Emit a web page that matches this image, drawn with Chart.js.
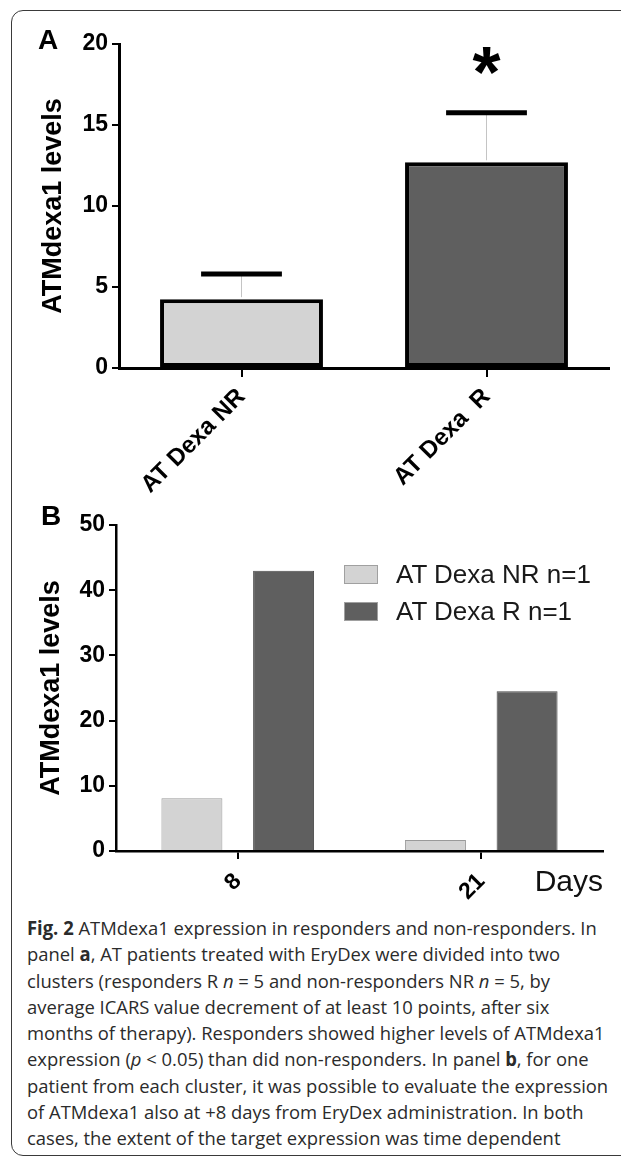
<!DOCTYPE html>
<html>
<head>
<meta charset="utf-8">
<script src="https://cdn.jsdelivr.net/npm/chart.js"></script>
<style>
  html, body { margin: 0; padding: 0; background: #fff; }
  body { width: 621px; height: 1159px; position: relative; overflow: hidden; font-family: 'Liberation Sans', Arial, sans-serif; }
  .frame { position: absolute; left: 11px; top: 10px; width: 700px; height: 1146px; border: 1.5px solid #3a3a3a; border-radius: 12px; box-sizing: border-box; }
  canvas { position: absolute; left: 0; }
  #chartA { top: 0; }
  #chartB { top: 500px; }
  .panel { position: absolute; font-weight: bold; font-size: 28px; line-height: 28px; color: #000; }
  #legendB { position: absolute; left: 344px; top: 556px; }
  .leg-row { display: flex; align-items: center; height: 37px; }
  .leg-box { width: 34px; height: 19px; box-sizing: border-box; border: 1px solid #a0a0a0; margin-right: 18px; }
  .leg-text { font-size: 26px; color: #1a1a1a; white-space: nowrap; }
  #caption { position: absolute; left: 27px; top: 915px; font-family: 'Open Sans', sans-serif; font-size: 19px; line-height: 26.25px; color: #2b2b2b; transform-origin: 0 0; }
  #caption div { white-space: nowrap; }
</style>
</head>
<body>
<div class="frame"></div>
<canvas id="chartA" width="621" height="505"></canvas>
<canvas id="chartB" width="621" height="410"></canvas>
<div class="panel" style="left:38px; top:26px;">A</div>
<div class="panel" style="left:41px; top:502px;">B</div>
<div id="legendB"></div>
<div id="caption">
  <div><b>Fig. 2</b> ATMdexa1 expression in responders and non-responders. In</div>
  <div>panel <b>a</b>, AT patients treated with EryDex were divided into two</div>
  <div>clusters (responders R <i>n</i> = 5 and non-responders NR <i>n</i> = 5, by</div>
  <div>average ICARS value decrement of at least 10 points, after six</div>
  <div>months of therapy). Responders showed higher levels of ATMdexa1</div>
  <div>expression (<i>p</i> &lt; 0.05) than did non-responders. In panel <b>b</b>, for one</div>
  <div id="widest">patient from each cluster, it was possible to evaluate the expression</div>
  <div>of ATMdexa1 also at +8 days from EryDex administration. In both</div>
  <div>cases, the extent of the target expression was time dependent</div>
</div>
<script>
// Panel A: mean levels with upper error bar
const groupsA = ['AT Dexa NR', 'AT Dexa  R'];
const meanA = [4.25, 12.7];
const semA = [1.55, 3.05];
const signifA = ['', '*'];
const colorsA = ['#d3d3d3', '#5f5f5f'];
const ticksA = [0, 5, 10, 15, 20];

// Panel B: one patient per cluster, by day
const daysB = ['8', '21'];
const nrB = [8.1, 1.7];
const rB = [43.0, 24.5];
const ticksB = [0, 10, 20, 30, 40, 50];
const labelsB = ['AT Dexa NR n=1', 'AT Dexa R n=1'];
const colorsB = ['#d3d3d3', '#5f5f5f'];

const FONT = "'Liberation Sans', Arial, sans-serif";

const errorBarsA = {
    id: 'errorBarsA',
    afterDatasetsDraw(chart) {
        const ctx = chart.ctx;
        const y = chart.scales.y;
        const meta = chart.getDatasetMeta(0);
        ctx.save();
        meta.data.forEach((bar, i) => {
            const top = y.getPixelForValue(meanA[i]);
            const cap = y.getPixelForValue(meanA[i] + semA[i]);
            const half = bar.width * 0.248;
            ctx.strokeStyle = '#c4c4c4';
            ctx.lineWidth = 1;
            ctx.beginPath();
            ctx.moveTo(bar.x, top - 2);
            ctx.lineTo(bar.x, cap);
            ctx.stroke();
            ctx.strokeStyle = '#000';
            ctx.lineWidth = 5;
            ctx.beginPath();
            ctx.moveTo(bar.x - half, cap);
            ctx.lineTo(bar.x + half, cap);
            ctx.stroke();
            if (signifA[i]) {
                ctx.font = 'bold 72px ' + FONT;
                ctx.fillStyle = '#000';
                ctx.textAlign = 'center';
                ctx.textBaseline = 'alphabetic';
                const m = ctx.measureText(signifA[i]);
                const mid = (m.actualBoundingBoxAscent - m.actualBoundingBoxDescent) / 2;
                ctx.fillText(signifA[i], bar.x, cap - 52 + mid);
            }
        });
        ctx.restore();
    }
};

function tickFont(size) {
    return { family: FONT, size: size, weight: 'bold' };
}

new Chart(document.getElementById('chartA'), {
    type: 'bar',
    data: {
        labels: groupsA,
        datasets: [{
            data: meanA,
            backgroundColor: colorsA,
            borderColor: '#000',
            borderWidth: 4,
            borderSkipped: false,
            barPercentage: 0.665,
            categoryPercentage: 1
        }]
    },
    options: {
        responsive: false,
        animation: false,
        layout: { padding: { top: 44, right: 12, left: 0, bottom: 0 } },
        plugins: { legend: { display: false }, tooltip: { enabled: false } },
        scales: {
            x: {
                grid: { display: true, drawOnChartArea: false, offset: false, tickLength: 9, color: '#000', lineWidth: 2 },
                border: { display: true, color: '#000', width: 3 },
                ticks: { color: '#000', font: tickFont(24), minRotation: 45, maxRotation: 45, autoSkip: false, padding: 6 },
                afterFit: s => { s.height = 137; }
            },
            y: {
                min: 0,
                max: 20,
                afterBuildTicks: s => { s.ticks = ticksA.map(v => ({ value: v })); },
                grid: { display: true, drawOnChartArea: false, tickLength: 7, color: '#000', lineWidth: 2 },
                border: { display: true, color: '#000', width: 3 },
                ticks: { color: '#000', font: tickFont(23), padding: 4 },
                title: { display: true, text: 'ATMdexa1 levels', color: '#000', font: tickFont(27), padding: { top: 37, bottom: 0 } },
                afterFit: s => { s.width = 119; }
            }
        }
    },
    plugins: [errorBarsA]
});

const chartB = new Chart(document.getElementById('chartB'), {
    type: 'bar',
    data: {
        labels: daysB,
        datasets: [
            { label: labelsB[0], data: nrB, backgroundColor: colorsB[0], borderColor: '#9a9a9a', borderWidth: 1 },
            { label: labelsB[1], data: rB, backgroundColor: colorsB[1], borderColor: '#4a4a4a', borderWidth: 1 }
        ]
    },
    options: {
        responsive: false,
        animation: false,
        datasets: { bar: { barPercentage: 0.665, categoryPercentage: 0.753 } },
        layout: { padding: { top: 25, right: 18, left: 0, bottom: 0 } },
        plugins: { legend: { display: false }, tooltip: { enabled: false } },
        scales: {
            x: {
                grid: { display: true, drawOnChartArea: false, offset: false, tickLength: 8, color: '#000', lineWidth: 2 },
                border: { display: true, color: '#000', width: 2.5 },
                ticks: { color: '#000', font: tickFont(23), minRotation: 45, maxRotation: 45, autoSkip: false, padding: 9 },
                title: { display: true, text: 'Days', align: 'end', color: '#111', font: { family: FONT, size: 30 }, padding: { top: 0, bottom: 9 } },
                afterFit: s => { s.height = 59; }
            },
            y: {
                min: 0,
                max: 50,
                afterBuildTicks: s => { s.ticks = ticksB.map(v => ({ value: v })); },
                grid: { display: true, drawOnChartArea: false, tickLength: 7, color: '#000', lineWidth: 2 },
                border: { display: true, color: '#000', width: 2.5 },
                ticks: { color: '#000', font: tickFont(23), padding: 4 },
                title: { display: true, text: 'ATMdexa1 levels', color: '#000', font: tickFont(27), padding: { top: 35, bottom: 0 } },
                afterFit: s => { s.width = 116; }
            }
        }
    }
});

// HTML legend built from the B datasets
const legend = document.getElementById('legendB');
chartB.data.datasets.forEach(ds => {
    const row = document.createElement('div');
    row.className = 'leg-row';
    const box = document.createElement('div');
    box.className = 'leg-box';
    box.style.background = ds.backgroundColor;
    const txt = document.createElement('div');
    txt.className = 'leg-text';
    txt.textContent = ds.label;
    row.appendChild(box);
    row.appendChild(txt);
    legend.appendChild(row);
});

// squeeze caption so its widest line spans the same width as in the figure
const cap = document.getElementById('caption');
const w = document.getElementById('widest').scrollWidth;
cap.style.transform = 'scaleX(' + (581 / w) + ')';
</script>
</body>
</html>
